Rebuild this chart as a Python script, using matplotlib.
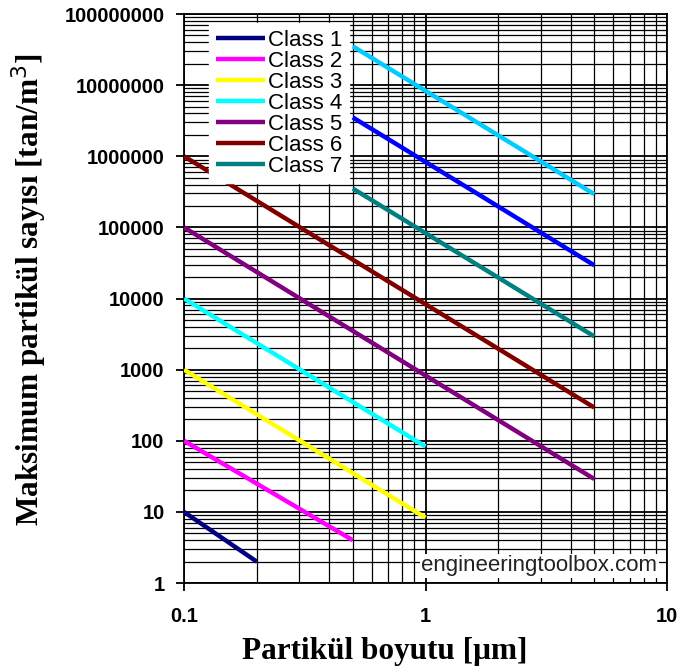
import matplotlib
matplotlib.use("Agg")
import matplotlib.pyplot as plt
from matplotlib.ticker import LogLocator, FixedLocator, FixedFormatter

# particle size [um] and max concentration at the start/end of each class line
labels = ["Class 1", "Class 2", "Class 3", "Class 4", "Class 5", "Class 6", "Class 7",
          "Class 8", "Class 9"]
x_start = [0.1, 0.1, 0.1, 0.1, 0.1, 0.1, 0.5, 0.5, 0.5]
x_end = [0.2, 0.5, 1.0, 1.0, 5.0, 5.0, 5.0, 5.0, 5.0]
y_start = [10, 100, 1000, 10000, 100000, 1000000, 352000, 3520000, 35200000]
y_end = [2.0, 4.0, 8.3, 83, 29, 293, 2930, 29300, 293000]
colors = ["#000080", "#FF00FF", "#FFFF00", "#00FFFF", "#800080", "#800000", "#008080",
          "#0000FF", "#00CCFF"]
in_legend = [True] * 7 + [False] * 2

y_ticks = [1, 10, 100, 1000, 10000, 100000, 1000000, 10000000, 100000000]
y_tick_labels = ["1", "10", "100", "1000", "10000", "100000", "1000000", "10000000", "100000000"]
x_ticks = [0.1, 1, 10]
x_tick_labels = ["0.1", "1", "10"]

fig = plt.figure(figsize=(6.8, 6.72), dpi=100)
ax = fig.add_axes([0.2706, 0.1324, 0.7103, 0.8467])

for i in range(len(labels)):
    ax.plot([x_start[i], x_end[i]], [y_start[i], y_end[i]], color=colors[i], lw=3.2,
            solid_capstyle="butt", label=labels[i] if in_legend[i] else "_nolegend_", zorder=3)

ax.set_xscale("log")
ax.set_yscale("log")
ax.set_xlim(0.1, 10)
ax.set_ylim(1, 1e8)

ax.yaxis.set_major_locator(FixedLocator(y_ticks))
ax.yaxis.set_major_formatter(FixedFormatter(y_tick_labels))
ax.xaxis.set_major_locator(FixedLocator(x_ticks))
ax.xaxis.set_major_formatter(FixedFormatter(x_tick_labels))
ax.xaxis.set_minor_locator(LogLocator(base=10, subs=range(2, 10)))
ax.yaxis.set_minor_locator(LogLocator(base=10, subs=range(2, 10), numticks=20))

ax.grid(True, which="major", color="black", lw=1.3)
ax.grid(True, which="minor", color="black", lw=0.9)
ax.set_axisbelow(True)

ax.tick_params(which="major", direction="out", length=6, width=1.3, color="black",
               labelsize=14.5)
ax.tick_params(axis="y", which="major", pad=8)
ax.tick_params(axis="x", which="major", pad=11)
ax.tick_params(which="minor", length=0)
for lab in ax.get_xticklabels() + ax.get_yticklabels():
    lab.set_fontfamily("Liberation Sans")
    lab.set_fontweight("bold")
for sp in ax.spines.values():
    sp.set_color("black")
    sp.set_linewidth(1.3)

ax.set_xlabel("Partikül boyutu [μm]", fontsize=22.5, fontweight="bold",
              family="Liberation Serif")
ax.set_ylabel("Maksimum partikül sayısı [tan/m$^3$]", fontsize=22.5, fontweight="bold",
              family="Liberation Serif")
ax.xaxis.set_label_coords(0.416, -0.094)
ax.yaxis.set_label_coords(-0.28, 0.515)

leg = ax.legend(loc="upper left", bbox_to_anchor=(0.052, 0.984), frameon=True,
                fancybox=False, edgecolor="white", framealpha=1,
                prop={"family": "Liberation Sans", "size": 16},
                handlelength=2.2, handletextpad=0.13, labelspacing=0.0,
                borderpad=0.3, borderaxespad=0)
for ln in leg.get_lines():
    ln.set_linewidth(3.2)

ax.text(0.98, 0.03, "engineeringtoolbox.com", transform=ax.transAxes, ha="right",
        va="center", fontsize=16, family="Liberation Sans", color="#222222",
        bbox=dict(facecolor="white", edgecolor="none", pad=1), zorder=4)

fig.savefig("out.png", dpi=100)
